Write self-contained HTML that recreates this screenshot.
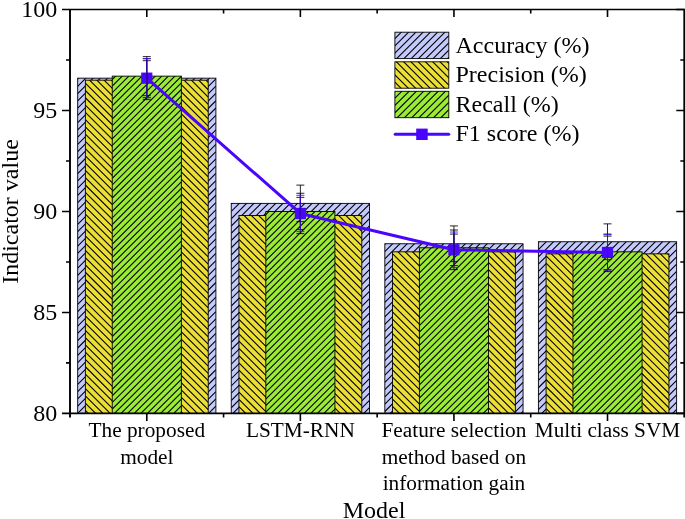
<!DOCTYPE html>
<html lang="en"><head><meta charset="utf-8"><title>Model indicator comparison</title>
<style>html,body{margin:0;padding:0;background:#fff}svg{display:block}text{font-family:"Liberation Serif","Times New Roman",serif;fill:#000}</style>
</head><body>
<svg width="685" height="519" viewBox="0 0 685 519">
<rect width="685" height="519" fill="#fff"/>
<clipPath id="c1"><rect x="77.68" y="78.16" width="138.22" height="335.24"/></clipPath>
<rect x="77.68" y="78.16" width="138.22" height="335.24" fill="#c3c9fb"/>
<path clip-path="url(#c1)" d="M77.68 79.01L215.90 -59.21M77.68 86.28L215.90 -51.94M77.68 93.55L215.90 -44.67M77.68 100.82L215.90 -37.40M77.68 108.09L215.90 -30.13M77.68 115.36L215.90 -22.86M77.68 122.63L215.90 -15.59M77.68 129.90L215.90 -8.32M77.68 137.17L215.90 -1.05M77.68 144.44L215.90 6.22M77.68 151.71L215.90 13.49M77.68 158.98L215.90 20.76M77.68 166.25L215.90 28.03M77.68 173.52L215.90 35.30M77.68 180.79L215.90 42.57M77.68 188.06L215.90 49.84M77.68 195.33L215.90 57.11M77.68 202.60L215.90 64.38M77.68 209.87L215.90 71.65M77.68 217.14L215.90 78.92M77.68 224.41L215.90 86.19M77.68 231.68L215.90 93.46M77.68 238.95L215.90 100.73M77.68 246.22L215.90 108.00M77.68 253.49L215.90 115.27M77.68 260.76L215.90 122.54M77.68 268.03L215.90 129.81M77.68 275.30L215.90 137.08M77.68 282.57L215.90 144.35M77.68 289.84L215.90 151.62M77.68 297.11L215.90 158.89M77.68 304.38L215.90 166.16M77.68 311.65L215.90 173.43M77.68 318.92L215.90 180.70M77.68 326.19L215.90 187.97M77.68 333.46L215.90 195.24M77.68 340.73L215.90 202.51M77.68 348.00L215.90 209.78M77.68 355.27L215.90 217.05M77.68 362.54L215.90 224.32M77.68 369.81L215.90 231.59M77.68 377.08L215.90 238.86M77.68 384.35L215.90 246.13M77.68 391.62L215.90 253.40M77.68 398.89L215.90 260.67M77.68 406.16L215.90 267.94M77.68 413.43L215.90 275.21M77.68 420.70L215.90 282.48M77.68 427.97L215.90 289.75M77.68 435.24L215.90 297.02M77.68 442.51L215.90 304.29M77.68 449.78L215.90 311.56M77.68 457.05L215.90 318.83M77.68 464.32L215.90 326.10M77.68 471.59L215.90 333.37M77.68 478.86L215.90 340.64M77.68 486.13L215.90 347.91M77.68 493.40L215.90 355.18M77.68 500.67L215.90 362.45M77.68 507.94L215.90 369.72M77.68 515.21L215.90 376.99M77.68 522.48L215.90 384.26M77.68 529.75L215.90 391.53M77.68 537.02L215.90 398.80M77.68 544.29L215.90 406.07M77.68 551.56L215.90 413.34" stroke="#000" stroke-width="1.08" fill="none"/>
<rect x="77.68" y="78.16" width="138.22" height="335.24" fill="none" stroke="#000" stroke-width="0.9"/>
<clipPath id="c2"><rect x="231.25" y="203.37" width="138.22" height="210.03"/></clipPath>
<rect x="231.25" y="203.37" width="138.22" height="210.03" fill="#c3c9fb"/>
<path clip-path="url(#c2)" d="M231.25 204.22L369.47 66.00M231.25 211.49L369.47 73.27M231.25 218.76L369.47 80.54M231.25 226.03L369.47 87.81M231.25 233.30L369.47 95.08M231.25 240.57L369.47 102.35M231.25 247.84L369.47 109.62M231.25 255.11L369.47 116.89M231.25 262.38L369.47 124.16M231.25 269.65L369.47 131.43M231.25 276.92L369.47 138.70M231.25 284.19L369.47 145.97M231.25 291.46L369.47 153.24M231.25 298.73L369.47 160.51M231.25 306.00L369.47 167.78M231.25 313.27L369.47 175.05M231.25 320.54L369.47 182.32M231.25 327.81L369.47 189.59M231.25 335.08L369.47 196.86M231.25 342.35L369.47 204.13M231.25 349.62L369.47 211.40M231.25 356.89L369.47 218.67M231.25 364.16L369.47 225.94M231.25 371.43L369.47 233.21M231.25 378.70L369.47 240.48M231.25 385.97L369.47 247.75M231.25 393.24L369.47 255.02M231.25 400.51L369.47 262.29M231.25 407.78L369.47 269.56M231.25 415.05L369.47 276.83M231.25 422.32L369.47 284.10M231.25 429.59L369.47 291.37M231.25 436.86L369.47 298.64M231.25 444.13L369.47 305.91M231.25 451.40L369.47 313.18M231.25 458.67L369.47 320.45M231.25 465.94L369.47 327.72M231.25 473.21L369.47 334.99M231.25 480.48L369.47 342.26M231.25 487.75L369.47 349.53M231.25 495.02L369.47 356.80M231.25 502.29L369.47 364.07M231.25 509.56L369.47 371.34M231.25 516.83L369.47 378.61M231.25 524.10L369.47 385.88M231.25 531.37L369.47 393.15M231.25 538.64L369.47 400.42M231.25 545.91L369.47 407.69" stroke="#000" stroke-width="1.08" fill="none"/>
<rect x="231.25" y="203.37" width="138.22" height="210.03" fill="none" stroke="#000" stroke-width="0.9"/>
<clipPath id="c3"><rect x="384.83" y="243.76" width="138.22" height="169.64"/></clipPath>
<rect x="384.83" y="243.76" width="138.22" height="169.64" fill="#c3c9fb"/>
<path clip-path="url(#c3)" d="M384.83 244.29L523.05 106.07M384.83 251.56L523.05 113.34M384.83 258.83L523.05 120.61M384.83 266.10L523.05 127.88M384.83 273.37L523.05 135.15M384.83 280.64L523.05 142.42M384.83 287.91L523.05 149.69M384.83 295.18L523.05 156.96M384.83 302.45L523.05 164.23M384.83 309.72L523.05 171.50M384.83 316.99L523.05 178.77M384.83 324.26L523.05 186.04M384.83 331.53L523.05 193.31M384.83 338.80L523.05 200.58M384.83 346.07L523.05 207.85M384.83 353.34L523.05 215.12M384.83 360.61L523.05 222.39M384.83 367.88L523.05 229.66M384.83 375.15L523.05 236.93M384.83 382.42L523.05 244.20M384.83 389.69L523.05 251.47M384.83 396.96L523.05 258.74M384.83 404.23L523.05 266.01M384.83 411.50L523.05 273.28M384.83 418.77L523.05 280.55M384.83 426.04L523.05 287.82M384.83 433.31L523.05 295.09M384.83 440.58L523.05 302.36M384.83 447.85L523.05 309.63M384.83 455.12L523.05 316.90M384.83 462.39L523.05 324.17M384.83 469.66L523.05 331.44M384.83 476.93L523.05 338.71M384.83 484.20L523.05 345.98M384.83 491.47L523.05 353.25M384.83 498.74L523.05 360.52M384.83 506.01L523.05 367.79M384.83 513.28L523.05 375.06M384.83 520.55L523.05 382.33M384.83 527.82L523.05 389.60M384.83 535.09L523.05 396.87M384.83 542.36L523.05 404.14M384.83 549.63L523.05 411.41" stroke="#000" stroke-width="1.08" fill="none"/>
<rect x="384.83" y="243.76" width="138.22" height="169.64" fill="none" stroke="#000" stroke-width="0.9"/>
<clipPath id="c4"><rect x="538.40" y="241.74" width="138.22" height="171.66"/></clipPath>
<rect x="538.40" y="241.74" width="138.22" height="171.66" fill="#c3c9fb"/>
<path clip-path="url(#c4)" d="M538.40 242.35L676.62 104.13M538.40 249.62L676.62 111.40M538.40 256.89L676.62 118.67M538.40 264.16L676.62 125.94M538.40 271.43L676.62 133.21M538.40 278.70L676.62 140.48M538.40 285.97L676.62 147.75M538.40 293.24L676.62 155.02M538.40 300.51L676.62 162.29M538.40 307.78L676.62 169.56M538.40 315.05L676.62 176.83M538.40 322.32L676.62 184.10M538.40 329.59L676.62 191.37M538.40 336.86L676.62 198.64M538.40 344.13L676.62 205.91M538.40 351.40L676.62 213.18M538.40 358.67L676.62 220.45M538.40 365.94L676.62 227.72M538.40 373.21L676.62 234.99M538.40 380.48L676.62 242.26M538.40 387.75L676.62 249.53M538.40 395.02L676.62 256.80M538.40 402.29L676.62 264.07M538.40 409.56L676.62 271.34M538.40 416.83L676.62 278.61M538.40 424.10L676.62 285.88M538.40 431.37L676.62 293.15M538.40 438.64L676.62 300.42M538.40 445.91L676.62 307.69M538.40 453.18L676.62 314.96M538.40 460.45L676.62 322.23M538.40 467.72L676.62 329.50M538.40 474.99L676.62 336.77M538.40 482.26L676.62 344.04M538.40 489.53L676.62 351.31M538.40 496.80L676.62 358.58M538.40 504.07L676.62 365.85M538.40 511.34L676.62 373.12M538.40 518.61L676.62 380.39M538.40 525.88L676.62 387.66M538.40 533.15L676.62 394.93M538.40 540.42L676.62 402.20M538.40 547.69L676.62 409.47" stroke="#000" stroke-width="1.08" fill="none"/>
<rect x="538.40" y="241.74" width="138.22" height="171.66" fill="none" stroke="#000" stroke-width="0.9"/>
<clipPath id="c5"><rect x="85.36" y="80.18" width="122.86" height="333.22"/></clipPath>
<rect x="85.36" y="80.18" width="122.86" height="333.22" fill="#ebde36"/>
<path clip-path="url(#c5)" d="M85.36 -40.38L208.22 82.48M85.36 -33.11L208.22 89.75M85.36 -25.84L208.22 97.02M85.36 -18.57L208.22 104.29M85.36 -11.30L208.22 111.56M85.36 -4.03L208.22 118.83M85.36 3.24L208.22 126.10M85.36 10.51L208.22 133.37M85.36 17.78L208.22 140.64M85.36 25.05L208.22 147.91M85.36 32.32L208.22 155.18M85.36 39.59L208.22 162.45M85.36 46.86L208.22 169.72M85.36 54.13L208.22 176.99M85.36 61.40L208.22 184.26M85.36 68.67L208.22 191.53M85.36 75.94L208.22 198.80M85.36 83.21L208.22 206.07M85.36 90.48L208.22 213.34M85.36 97.75L208.22 220.61M85.36 105.02L208.22 227.88M85.36 112.29L208.22 235.15M85.36 119.56L208.22 242.42M85.36 126.83L208.22 249.69M85.36 134.10L208.22 256.96M85.36 141.37L208.22 264.23M85.36 148.64L208.22 271.50M85.36 155.91L208.22 278.77M85.36 163.18L208.22 286.04M85.36 170.45L208.22 293.31M85.36 177.72L208.22 300.58M85.36 184.99L208.22 307.85M85.36 192.26L208.22 315.12M85.36 199.53L208.22 322.39M85.36 206.80L208.22 329.66M85.36 214.07L208.22 336.93M85.36 221.34L208.22 344.20M85.36 228.61L208.22 351.47M85.36 235.88L208.22 358.74M85.36 243.15L208.22 366.01M85.36 250.42L208.22 373.28M85.36 257.69L208.22 380.55M85.36 264.96L208.22 387.82M85.36 272.23L208.22 395.09M85.36 279.50L208.22 402.36M85.36 286.77L208.22 409.63M85.36 294.04L208.22 416.90M85.36 301.31L208.22 424.17M85.36 308.58L208.22 431.44M85.36 315.85L208.22 438.71M85.36 323.12L208.22 445.98M85.36 330.39L208.22 453.25M85.36 337.66L208.22 460.52M85.36 344.93L208.22 467.79M85.36 352.20L208.22 475.06M85.36 359.47L208.22 482.33M85.36 366.74L208.22 489.60M85.36 374.01L208.22 496.87M85.36 381.28L208.22 504.14M85.36 388.55L208.22 511.41M85.36 395.82L208.22 518.68M85.36 403.09L208.22 525.95M85.36 410.36L208.22 533.22" stroke="#000" stroke-width="1.08" fill="none"/>
<rect x="85.36" y="80.18" width="122.86" height="333.22" fill="none" stroke="#000" stroke-width="0.9"/>
<clipPath id="c6"><rect x="238.93" y="215.49" width="122.86" height="197.91"/></clipPath>
<rect x="238.93" y="215.49" width="122.86" height="197.91" fill="#ebde36"/>
<path clip-path="url(#c6)" d="M238.93 93.98L361.79 216.84M238.93 101.25L361.79 224.11M238.93 108.52L361.79 231.38M238.93 115.79L361.79 238.65M238.93 123.06L361.79 245.92M238.93 130.33L361.79 253.19M238.93 137.60L361.79 260.46M238.93 144.87L361.79 267.73M238.93 152.14L361.79 275.00M238.93 159.41L361.79 282.27M238.93 166.68L361.79 289.54M238.93 173.95L361.79 296.81M238.93 181.22L361.79 304.08M238.93 188.49L361.79 311.35M238.93 195.76L361.79 318.62M238.93 203.03L361.79 325.89M238.93 210.30L361.79 333.16M238.93 217.57L361.79 340.43M238.93 224.84L361.79 347.70M238.93 232.11L361.79 354.97M238.93 239.38L361.79 362.24M238.93 246.65L361.79 369.51M238.93 253.92L361.79 376.78M238.93 261.19L361.79 384.05M238.93 268.46L361.79 391.32M238.93 275.73L361.79 398.59M238.93 283.00L361.79 405.86M238.93 290.27L361.79 413.13M238.93 297.54L361.79 420.40M238.93 304.81L361.79 427.67M238.93 312.08L361.79 434.94M238.93 319.35L361.79 442.21M238.93 326.62L361.79 449.48M238.93 333.89L361.79 456.75M238.93 341.16L361.79 464.02M238.93 348.43L361.79 471.29M238.93 355.70L361.79 478.56M238.93 362.97L361.79 485.83M238.93 370.24L361.79 493.10M238.93 377.51L361.79 500.37M238.93 384.78L361.79 507.64M238.93 392.05L361.79 514.91M238.93 399.32L361.79 522.18M238.93 406.59L361.79 529.45" stroke="#000" stroke-width="1.08" fill="none"/>
<rect x="238.93" y="215.49" width="122.86" height="197.91" fill="none" stroke="#000" stroke-width="0.9"/>
<clipPath id="c7"><rect x="392.51" y="251.84" width="122.86" height="161.56"/></clipPath>
<rect x="392.51" y="251.84" width="122.86" height="161.56" fill="#ebde36"/>
<path clip-path="url(#c7)" d="M392.51 130.06L515.37 252.92M392.51 137.33L515.37 260.19M392.51 144.60L515.37 267.46M392.51 151.87L515.37 274.73M392.51 159.14L515.37 282.00M392.51 166.41L515.37 289.27M392.51 173.68L515.37 296.54M392.51 180.95L515.37 303.81M392.51 188.22L515.37 311.08M392.51 195.49L515.37 318.35M392.51 202.76L515.37 325.62M392.51 210.03L515.37 332.89M392.51 217.30L515.37 340.16M392.51 224.57L515.37 347.43M392.51 231.84L515.37 354.70M392.51 239.11L515.37 361.97M392.51 246.38L515.37 369.24M392.51 253.65L515.37 376.51M392.51 260.92L515.37 383.78M392.51 268.19L515.37 391.05M392.51 275.46L515.37 398.32M392.51 282.73L515.37 405.59M392.51 290.00L515.37 412.86M392.51 297.27L515.37 420.13M392.51 304.54L515.37 427.40M392.51 311.81L515.37 434.67M392.51 319.08L515.37 441.94M392.51 326.35L515.37 449.21M392.51 333.62L515.37 456.48M392.51 340.89L515.37 463.75M392.51 348.16L515.37 471.02M392.51 355.43L515.37 478.29M392.51 362.70L515.37 485.56M392.51 369.97L515.37 492.83M392.51 377.24L515.37 500.10M392.51 384.51L515.37 507.37M392.51 391.78L515.37 514.64M392.51 399.05L515.37 521.91M392.51 406.32L515.37 529.18" stroke="#000" stroke-width="1.08" fill="none"/>
<rect x="392.51" y="251.84" width="122.86" height="161.56" fill="none" stroke="#000" stroke-width="0.9"/>
<clipPath id="c8"><rect x="546.08" y="253.86" width="122.86" height="159.54"/></clipPath>
<rect x="546.08" y="253.86" width="122.86" height="159.54" fill="#ebde36"/>
<path clip-path="url(#c8)" d="M546.08 132.27L668.94 255.13M546.08 139.54L668.94 262.40M546.08 146.81L668.94 269.67M546.08 154.08L668.94 276.94M546.08 161.35L668.94 284.21M546.08 168.62L668.94 291.48M546.08 175.89L668.94 298.75M546.08 183.16L668.94 306.02M546.08 190.43L668.94 313.29M546.08 197.70L668.94 320.56M546.08 204.97L668.94 327.83M546.08 212.24L668.94 335.10M546.08 219.51L668.94 342.37M546.08 226.78L668.94 349.64M546.08 234.05L668.94 356.91M546.08 241.32L668.94 364.18M546.08 248.59L668.94 371.45M546.08 255.86L668.94 378.72M546.08 263.13L668.94 385.99M546.08 270.40L668.94 393.26M546.08 277.67L668.94 400.53M546.08 284.94L668.94 407.80M546.08 292.21L668.94 415.07M546.08 299.48L668.94 422.34M546.08 306.75L668.94 429.61M546.08 314.02L668.94 436.88M546.08 321.29L668.94 444.15M546.08 328.56L668.94 451.42M546.08 335.83L668.94 458.69M546.08 343.10L668.94 465.96M546.08 350.37L668.94 473.23M546.08 357.64L668.94 480.50M546.08 364.91L668.94 487.77M546.08 372.18L668.94 495.04M546.08 379.45L668.94 502.31M546.08 386.72L668.94 509.58M546.08 393.99L668.94 516.85M546.08 401.26L668.94 524.12M546.08 408.53L668.94 531.39" stroke="#000" stroke-width="1.08" fill="none"/>
<rect x="546.08" y="253.86" width="122.86" height="159.54" fill="none" stroke="#000" stroke-width="0.9"/>
<clipPath id="c9"><rect x="112.23" y="76.14" width="69.11" height="337.26"/></clipPath>
<rect x="112.23" y="76.14" width="69.11" height="337.26" fill="#9aea36"/>
<path clip-path="url(#c9)" d="M112.23 79.53L181.34 10.42M112.23 86.12L181.34 17.01M112.23 92.71L181.34 23.60M112.23 99.30L181.34 30.19M112.23 105.89L181.34 36.78M112.23 112.48L181.34 43.37M112.23 119.07L181.34 49.96M112.23 125.66L181.34 56.55M112.23 132.25L181.34 63.14M112.23 138.84L181.34 69.73M112.23 145.43L181.34 76.32M112.23 152.02L181.34 82.91M112.23 158.61L181.34 89.50M112.23 165.20L181.34 96.09M112.23 171.79L181.34 102.68M112.23 178.38L181.34 109.27M112.23 184.97L181.34 115.86M112.23 191.56L181.34 122.45M112.23 198.15L181.34 129.04M112.23 204.74L181.34 135.63M112.23 211.33L181.34 142.22M112.23 217.92L181.34 148.81M112.23 224.51L181.34 155.40M112.23 231.10L181.34 161.99M112.23 237.69L181.34 168.58M112.23 244.28L181.34 175.17M112.23 250.87L181.34 181.76M112.23 257.46L181.34 188.35M112.23 264.05L181.34 194.94M112.23 270.64L181.34 201.53M112.23 277.23L181.34 208.12M112.23 283.82L181.34 214.71M112.23 290.41L181.34 221.30M112.23 297.00L181.34 227.89M112.23 303.59L181.34 234.48M112.23 310.18L181.34 241.07M112.23 316.77L181.34 247.66M112.23 323.36L181.34 254.25M112.23 329.95L181.34 260.84M112.23 336.54L181.34 267.43M112.23 343.13L181.34 274.02M112.23 349.72L181.34 280.61M112.23 356.31L181.34 287.20M112.23 362.90L181.34 293.79M112.23 369.49L181.34 300.38M112.23 376.08L181.34 306.97M112.23 382.67L181.34 313.56M112.23 389.26L181.34 320.15M112.23 395.85L181.34 326.74M112.23 402.44L181.34 333.33M112.23 409.03L181.34 339.92M112.23 415.62L181.34 346.51M112.23 422.21L181.34 353.10M112.23 428.80L181.34 359.69M112.23 435.39L181.34 366.28M112.23 441.98L181.34 372.87M112.23 448.57L181.34 379.46M112.23 455.16L181.34 386.05M112.23 461.75L181.34 392.64M112.23 468.34L181.34 399.23M112.23 474.93L181.34 405.82M112.23 481.52L181.34 412.41" stroke="#000" stroke-width="1.08" fill="none"/>
<rect x="112.23" y="76.14" width="69.11" height="337.26" fill="none" stroke="#000" stroke-width="0.9"/>
<clipPath id="c10"><rect x="265.81" y="211.45" width="69.11" height="201.95"/></clipPath>
<rect x="265.81" y="211.45" width="69.11" height="201.95" fill="#9aea36"/>
<path clip-path="url(#c10)" d="M265.81 214.53L334.92 145.42M265.81 221.12L334.92 152.01M265.81 227.71L334.92 158.60M265.81 234.30L334.92 165.19M265.81 240.89L334.92 171.78M265.81 247.48L334.92 178.37M265.81 254.07L334.92 184.96M265.81 260.66L334.92 191.55M265.81 267.25L334.92 198.14M265.81 273.84L334.92 204.73M265.81 280.43L334.92 211.32M265.81 287.02L334.92 217.91M265.81 293.61L334.92 224.50M265.81 300.20L334.92 231.09M265.81 306.79L334.92 237.68M265.81 313.38L334.92 244.27M265.81 319.97L334.92 250.86M265.81 326.56L334.92 257.45M265.81 333.15L334.92 264.04M265.81 339.74L334.92 270.63M265.81 346.33L334.92 277.22M265.81 352.92L334.92 283.81M265.81 359.51L334.92 290.40M265.81 366.10L334.92 296.99M265.81 372.69L334.92 303.58M265.81 379.28L334.92 310.17M265.81 385.87L334.92 316.76M265.81 392.46L334.92 323.35M265.81 399.05L334.92 329.94M265.81 405.64L334.92 336.53M265.81 412.23L334.92 343.12M265.81 418.82L334.92 349.71M265.81 425.41L334.92 356.30M265.81 432.00L334.92 362.89M265.81 438.59L334.92 369.48M265.81 445.18L334.92 376.07M265.81 451.77L334.92 382.66M265.81 458.36L334.92 389.25M265.81 464.95L334.92 395.84M265.81 471.54L334.92 402.43M265.81 478.13L334.92 409.02" stroke="#000" stroke-width="1.08" fill="none"/>
<rect x="265.81" y="211.45" width="69.11" height="201.95" fill="none" stroke="#000" stroke-width="0.9"/>
<clipPath id="c11"><rect x="419.38" y="247.80" width="69.11" height="165.60"/></clipPath>
<rect x="419.38" y="247.80" width="69.11" height="165.60" fill="#9aea36"/>
<path clip-path="url(#c11)" d="M419.38 253.13L488.49 184.02M419.38 259.72L488.49 190.61M419.38 266.31L488.49 197.20M419.38 272.90L488.49 203.79M419.38 279.49L488.49 210.38M419.38 286.08L488.49 216.97M419.38 292.67L488.49 223.56M419.38 299.26L488.49 230.15M419.38 305.85L488.49 236.74M419.38 312.44L488.49 243.33M419.38 319.03L488.49 249.92M419.38 325.62L488.49 256.51M419.38 332.21L488.49 263.10M419.38 338.80L488.49 269.69M419.38 345.39L488.49 276.28M419.38 351.98L488.49 282.87M419.38 358.57L488.49 289.46M419.38 365.16L488.49 296.05M419.38 371.75L488.49 302.64M419.38 378.34L488.49 309.23M419.38 384.93L488.49 315.82M419.38 391.52L488.49 322.41M419.38 398.11L488.49 329.00M419.38 404.70L488.49 335.59M419.38 411.29L488.49 342.18M419.38 417.88L488.49 348.77M419.38 424.47L488.49 355.36M419.38 431.06L488.49 361.95M419.38 437.65L488.49 368.54M419.38 444.24L488.49 375.13M419.38 450.83L488.49 381.72M419.38 457.42L488.49 388.31M419.38 464.01L488.49 394.90M419.38 470.60L488.49 401.49M419.38 477.19L488.49 408.08" stroke="#000" stroke-width="1.08" fill="none"/>
<rect x="419.38" y="247.80" width="69.11" height="165.60" fill="none" stroke="#000" stroke-width="0.9"/>
<clipPath id="c12"><rect x="572.96" y="251.84" width="69.11" height="161.56"/></clipPath>
<rect x="572.96" y="251.84" width="69.11" height="161.56" fill="#9aea36"/>
<path clip-path="url(#c12)" d="M572.96 257.58L642.07 188.47M572.96 264.17L642.07 195.06M572.96 270.76L642.07 201.65M572.96 277.35L642.07 208.24M572.96 283.94L642.07 214.83M572.96 290.53L642.07 221.42M572.96 297.12L642.07 228.01M572.96 303.71L642.07 234.60M572.96 310.30L642.07 241.19M572.96 316.89L642.07 247.78M572.96 323.48L642.07 254.37M572.96 330.07L642.07 260.96M572.96 336.66L642.07 267.55M572.96 343.25L642.07 274.14M572.96 349.84L642.07 280.73M572.96 356.43L642.07 287.32M572.96 363.02L642.07 293.91M572.96 369.61L642.07 300.50M572.96 376.20L642.07 307.09M572.96 382.79L642.07 313.68M572.96 389.38L642.07 320.27M572.96 395.97L642.07 326.86M572.96 402.56L642.07 333.45M572.96 409.15L642.07 340.04M572.96 415.74L642.07 346.63M572.96 422.33L642.07 353.22M572.96 428.92L642.07 359.81M572.96 435.51L642.07 366.40M572.96 442.10L642.07 372.99M572.96 448.69L642.07 379.58M572.96 455.28L642.07 386.17M572.96 461.87L642.07 392.76M572.96 468.46L642.07 399.35M572.96 475.05L642.07 405.94M572.96 481.64L642.07 412.53" stroke="#000" stroke-width="1.08" fill="none"/>
<rect x="572.96" y="251.84" width="69.11" height="161.56" fill="none" stroke="#000" stroke-width="0.9"/>
<polyline points="146.79,78.16 300.36,213.47 453.94,249.82 607.51,252.45" fill="none" stroke="#4a06fa" stroke-width="3" stroke-linejoin="round"/>
<rect x="141.19" y="72.56" width="11.2" height="11.2" fill="#4a06fa"/>
<rect x="294.76" y="207.87" width="11.2" height="11.2" fill="#4a06fa"/>
<rect x="448.34" y="244.22" width="11.2" height="11.2" fill="#4a06fa"/>
<rect x="601.91" y="246.85" width="11.2" height="11.2" fill="#4a06fa"/>
<path d="M146.79 58.65V97.67M142.79 58.65h8M142.79 97.67h8M300.36 185.12V221.63M296.36 185.12h8M296.36 221.63h8M453.94 225.91V261.61M449.94 225.91h8M449.94 261.61h8M607.51 223.87V259.62M603.51 223.87h8M603.51 259.62h8" fill="none" stroke="#000" stroke-width="0.85"/>
<path d="M146.79 60.69V99.67M142.79 60.69h8M142.79 99.67h8M300.36 197.35V233.62M296.36 197.35h8M296.36 233.62h8M453.94 234.07V269.61M449.94 234.07h8M449.94 269.61h8M607.51 236.11V271.61M603.51 236.11h8M603.51 271.61h8" fill="none" stroke="#000" stroke-width="0.85"/>
<path d="M146.79 56.61V95.67M142.79 56.61h8M142.79 95.67h8M300.36 193.27V229.63M296.36 193.27h8M296.36 229.63h8M453.94 229.99V265.61M449.94 229.99h8M449.94 265.61h8M607.51 234.07V269.61M603.51 234.07h8M603.51 269.61h8" fill="none" stroke="#000" stroke-width="0.85"/>
<path d="M146.79 58.65V97.67M142.79 58.65h8M142.79 97.67h8M300.36 195.31V231.62M296.36 195.31h8M296.36 231.62h8M453.94 232.03V267.61M449.94 232.03h8M449.94 267.61h8M607.51 234.68V270.21M603.51 234.68h8M603.51 270.21h8" fill="none" stroke="#4a06fa" stroke-width="0.85"/>
<path d="M70.0 9.5V417.4M684.3 9.5V417.4" stroke="#000" stroke-width="1.9" fill="none"/>
<path d="M62.0 9.5H685M62.0 413.4H685" stroke="#000" stroke-width="1.6" fill="none"/>
<path d="M62.0 110.47H70.0M676.3 110.47H684.3M62.0 211.45H70.0M676.3 211.45H684.3M62.0 312.43H70.0M676.3 312.43H684.3M66.0 59.99H70.0M680.3 59.99H684.3M66.0 160.96H70.0M680.3 160.96H684.3M66.0 261.94H70.0M680.3 261.94H684.3M66.0 362.91H70.0M680.3 362.91H684.3M676.3 9.5H684.3M676.3 413.4H684.3M146.79 9.5v7.5M146.79 413.4v7.5M300.36 9.5v7.5M300.36 413.4v7.5M453.94 9.5v7.5M453.94 413.4v7.5M607.51 9.5v7.5M607.51 413.4v7.5M223.57 9.5v4M223.57 413.4v4M377.15 9.5v4M377.15 413.4v4M530.72 9.5v4M530.72 413.4v4" stroke="#000" stroke-width="1.6" fill="none"/>
<text x="57.3" y="17.00" font-size="24" text-anchor="end">100</text>
<text x="57.3" y="117.97" font-size="24" text-anchor="end">95</text>
<text x="57.3" y="218.95" font-size="24" text-anchor="end">90</text>
<text x="57.3" y="319.93" font-size="24" text-anchor="end">85</text>
<text x="57.3" y="420.90" font-size="24" text-anchor="end">80</text>
<text x="146.79" y="437.40" font-size="21.3" text-anchor="middle">The proposed</text>
<text x="146.79" y="463.70" font-size="21.3" text-anchor="middle">model</text>
<text x="300.36" y="437.40" font-size="21.3" text-anchor="middle">LSTM-RNN</text>
<text x="453.94" y="437.40" font-size="21.3" text-anchor="middle">Feature selection</text>
<text x="453.94" y="463.70" font-size="21.3" text-anchor="middle">method based on</text>
<text x="453.94" y="490.00" font-size="21.3" text-anchor="middle">information gain</text>
<text x="607.51" y="437.40" font-size="21.3" text-anchor="middle">Multi class SVM</text>
<text x="374" y="518.3" font-size="24" text-anchor="middle">Model</text>
<text transform="translate(17.5 211.5) rotate(-90)" font-size="24" text-anchor="middle">Indicator value</text>
<clipPath id="c13"><rect x="394.90" y="32.20" width="53.90" height="26.40"/></clipPath>
<rect x="394.90" y="32.20" width="53.90" height="26.40" fill="#c3c9fb"/>
<path clip-path="url(#c13)" d="M394.90 38.58L448.80 -15.32M394.90 45.85L448.80 -8.05M394.90 53.12L448.80 -0.78M394.90 60.39L448.80 6.49M394.90 67.66L448.80 13.76M394.90 74.93L448.80 21.03M394.90 82.20L448.80 28.30M394.90 89.47L448.80 35.57M394.90 96.74L448.80 42.84M394.90 104.01L448.80 50.11M394.90 111.28L448.80 57.38" stroke="#000" stroke-width="1.08" fill="none"/>
<rect x="394.90" y="32.20" width="53.90" height="26.40" fill="none" stroke="#000" stroke-width="0.9"/>
<clipPath id="c14"><rect x="394.90" y="61.80" width="53.90" height="26.40"/></clipPath>
<rect x="394.90" y="61.80" width="53.90" height="26.40" fill="#ebde36"/>
<path clip-path="url(#c14)" d="M394.90 9.40L448.80 63.30M394.90 16.67L448.80 70.57M394.90 23.94L448.80 77.84M394.90 31.21L448.80 85.11M394.90 38.48L448.80 92.38M394.90 45.75L448.80 99.65M394.90 53.02L448.80 106.92M394.90 60.29L448.80 114.19M394.90 67.56L448.80 121.46M394.90 74.83L448.80 128.73M394.90 82.10L448.80 136.00" stroke="#000" stroke-width="1.08" fill="none"/>
<rect x="394.90" y="61.80" width="53.90" height="26.40" fill="none" stroke="#000" stroke-width="0.9"/>
<clipPath id="c15"><rect x="394.90" y="91.30" width="53.90" height="26.40"/></clipPath>
<rect x="394.90" y="91.30" width="53.90" height="26.40" fill="#9aea36"/>
<path clip-path="url(#c15)" d="M394.90 98.21L448.80 44.31M394.90 105.48L448.80 51.58M394.90 112.75L448.80 58.85M394.90 120.02L448.80 66.12M394.90 127.29L448.80 73.39M394.90 134.56L448.80 80.66M394.90 141.83L448.80 87.93M394.90 149.10L448.80 95.20M394.90 156.37L448.80 102.47M394.90 163.64L448.80 109.74M394.90 170.91L448.80 117.01" stroke="#000" stroke-width="1.08" fill="none"/>
<rect x="394.90" y="91.30" width="53.90" height="26.40" fill="none" stroke="#000" stroke-width="0.9"/>
<path d="M395.2 134.3H448.7" stroke="#4a06fa" stroke-width="3" stroke-linecap="round" fill="none"/>
<rect x="416.2" y="128.6" width="11.5" height="11.4" fill="#4a06fa"/>
<text x="455.5" y="52.7" font-size="24">Accuracy (%)</text>
<text x="455.5" y="82.3" font-size="24">Precision (%)</text>
<text x="455.5" y="111.8" font-size="24">Recall (%)</text>
<text x="455.5" y="141.4" font-size="24">F1 score (%)</text>
</svg>
</body></html>
